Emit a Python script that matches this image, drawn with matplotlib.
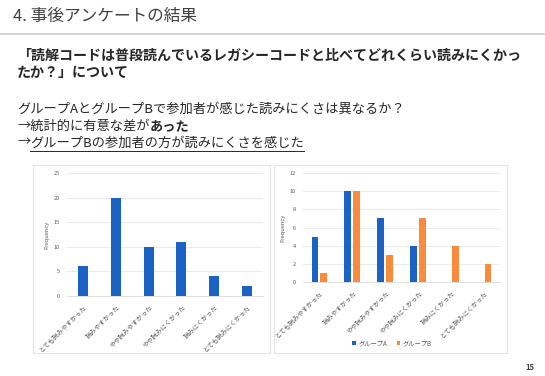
import matplotlib
matplotlib.use("Agg")
import matplotlib.pyplot as plt
from matplotlib.patches import Rectangle
from matplotlib.lines import Line2D
import numpy as np

plt.rcParams['font.family'] = ['Noto Sans CJK JP', 'DejaVu Sans']

# Data
categories = ["とても読みやすかった", "読みやすかった", "やや読みやすかった",
              "やや読みにくかった", "読みにくかった", "とても読みにくかった"]
total_freq = [6, 20, 10, 11, 4, 2]
group_a = [5, 10, 7, 4, 0, 0]
group_b = [1, 10, 3, 7, 4, 2]
series_names = ["グループA", "グループB"]

BLUE = "#1a63c4"
ORANGE = "#fa8a3c"
W, H = 545, 376


def fig_rect(x0, y0, x1, y1):
    # pixel box (top-left origin) -> figure fraction
    return [x0 / W, 1 - y1 / H, (x1 - x0) / W, (y1 - y0) / H]


fig = plt.figure(figsize=(W / 100, H / 100), dpi=100)
fig.patch.set_facecolor("white")

# Header
fig.text(13 / W, 1 - 16 / H, "4. 事後アンケートの結果", fontsize=12,
         color="#404040", va="center", ha="left")
fig.add_artist(Line2D([0, 1], [1 - 34 / H] * 2, color="#cfcfcf", lw=1.2))

# Question
fig.text(17 / W, 1 - 56 / H,
         "「読解コードは普段読んでいるレガシーコードと比べてどれくらい読みにくかっ",
         fontsize=10.1, fontweight="bold", color="#262626", va="center")
fig.text(17 / W, 1 - 73 / H, "たか？」について",
         fontsize=10.1, fontweight="bold", color="#262626", va="center")

# Body
fig.text(17 / W, 1 - 109 / H, "グループAとグループBで参加者が感じた読みにくさは異なるか？",
         fontsize=9.5, color="#262626", va="center")
t1 = fig.text(17 / W, 1 - 126 / H, "→統計的に有意な差が",
              fontsize=9.5, color="#262626", va="center")
t3 = fig.text(17 / W, 1 - 143 / H, "→",
              fontsize=9.5, color="#262626", va="center")

fig.canvas.draw()
r = fig.canvas.get_renderer()
bb = t1.get_window_extent(r)
fig.text(bb.x1 / W, 1 - 126 / H, "あった", fontsize=9.5, fontweight="bold",
         color="#262626", va="center")
bb3 = t3.get_window_extent(r)
t4 = fig.text(bb3.x1 / W, 1 - 143 / H, "グループBの参加者の方が読みにくさを感じた",
              fontsize=9.5, color="#262626", va="center")
fig.canvas.draw()
bb4 = t4.get_window_extent(r)
fig.add_artist(Line2D([bb4.x0 / W, bb4.x1 / W], [1 - 151 / H] * 2,
                      color="#262626", lw=0.7))

# Chart frames
for x0, x1 in [(33, 270), (274, 507)]:
    fig.add_artist(Rectangle((x0 / W, 1 - 353 / H), (x1 - x0) / W, (353 - 165) / H,
                             transform=fig.transFigure, fill=False,
                             edgecolor="#e3e3e3", lw=0.8))


def style_axes(ax, ymax, step):
    ax.set_ylim(0, ymax)
    ax.set_yticks(np.arange(0, ymax + 1, step))
    ax.grid(axis="y", color="#e6e6e6", lw=0.6)
    ax.set_axisbelow(True)
    for s in ["top", "right", "left"]:
        ax.spines[s].set_visible(False)
    ax.spines["bottom"].set_color("#d9d9d9")
    ax.spines["bottom"].set_linewidth(0.6)
    ax.tick_params(axis="y", length=0, labelsize=4, colors="#595959", pad=5)
    ax.tick_params(axis="x", length=0, labelsize=4.6, colors="#595959", pad=5)
    ax.set_xticks(np.arange(len(categories)))
    ax.set_xticklabels(categories, rotation=45, ha="right", rotation_mode="anchor")
    ax.set_ylabel("Frequency", fontsize=4.2, color="#595959", labelpad=3)
    ax.set_xlim(-0.5, len(categories) - 0.5)


# Left chart: overall
ax1 = fig.add_axes(fig_rect(67, 173, 263, 296))
x = np.arange(len(categories))
ax1.bar(x, total_freq, width=0.3, color=BLUE)
style_axes(ax1, 25, 5)

# Right chart: by group
ax2 = fig.add_axes(fig_rect(303, 173, 500, 282))
bw = 0.21
ax2.bar(x - 0.135, group_a, width=bw, color=BLUE, label=series_names[0])
ax2.bar(x + 0.135, group_b, width=bw, color=ORANGE, label=series_names[1])
style_axes(ax2, 12, 2)
ax2.legend(loc="center", bbox_to_anchor=((392 - 303) / 197, -(343 - 282) / 109),
           ncol=2, frameon=False, fontsize=4.5, handlelength=0.6, handleheight=0.6,
           columnspacing=1.5, handletextpad=0.4, labelcolor="#595959")

# Page number
fig.text(530 / W, 1 - 367 / H, "15", fontsize=5.5, fontweight="bold",
         color="#404040", ha="center", va="center")

fig.savefig("out.png", dpi=100)
